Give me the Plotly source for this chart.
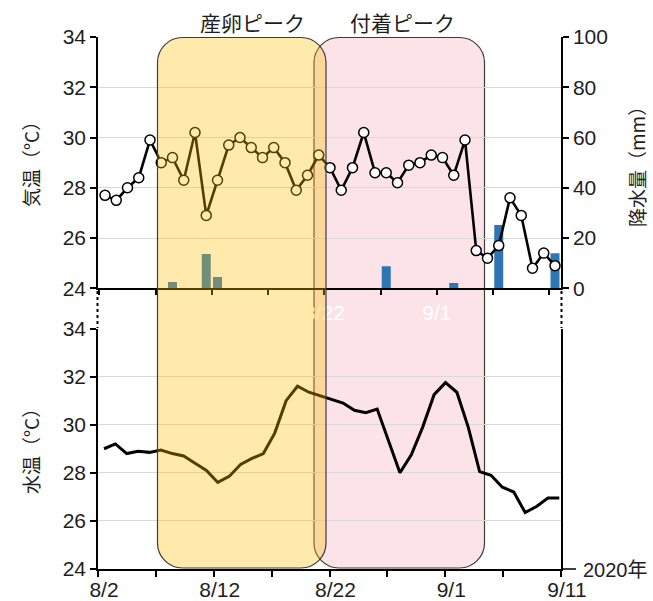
import pandas as pd
import plotly.graph_objects as go

# ---- data -------------------------------------------------------------
dates = pd.date_range("2020-08-02", "2020-09-11", freq="D")

air_temp = [27.7, 27.5, 28.0, 28.4, 29.9, 29.0, 29.2, 28.3, 30.2, 26.9,
            28.3, 29.7, 30.0, 29.6, 29.2, 29.6, 29.0, 27.9, 28.5, 29.3,
            28.8, 27.9, 28.8, 30.2, 28.6, 28.6, 28.2, 28.9, 29.0, 29.3,
            29.2, 28.5, 29.9, 25.5, 25.2, 25.7, 27.6, 26.9, 24.8, 25.4,
            24.9]

rain_mm = [0, 0, 0, 0, 0, 0, 2.5, 0, 0, 13.6,
           4.5, 0, 0, 0, 0, 0, 0, 0, 0, 0,
           0, 0, 0, 0, 0, 8.8, 0, 0, 0, 0,
           0, 2.1, 0, 0, 0, 25.2, 0, 0, 0, 0,
           13.9]

water_temp = [29.0, 29.2, 28.8, 28.9, 28.85, 28.95, 28.8, 28.7, 28.4, 28.1,
              27.6, 27.85, 28.35, 28.6, 28.8, 29.65, 31.0, 31.6, 31.35, 31.2,
              31.05, 30.9, 30.6, 30.5, 30.65, 29.35, 28.0, 28.75, 29.9, 31.25,
              31.75, 31.35, 29.9, 28.05, 27.9, 27.4, 27.2, 26.35, 26.6, 26.95,
              26.95]

tick_text = ["8/2", "", "8/12", "", "8/22", "", "9/1", "", "9/11"]
peak_labels = ["産卵ピーク", "付着ピーク"]

# ---- geometry helpers (pixel -> paper) -------------------------------
W, H = 653, 601
ML, MR, MT, MB = 98, 92, 37, 32
PW, PH = W - ML - MR, H - MT - MB


def px(x):
    return (x - ML) / PW


def py(y):
    return (H - MB - y) / PH


def ts(t):
    return pd.Timestamp(t).strftime("%Y-%m-%d %H:%M:%S")


DAY = pd.Timedelta(days=1)
MS_DAY = 86400000


def rounded_rect(x0, x1, y0, y1, r):
    """Rounded rectangle path in paper coordinates from pixel edges."""
    L, R = px(x0), px(x1)
    T, B = py(y0), py(y1)
    rx, ry = r / PW, r / PH
    k = 0.5523
    f = lambda a, b: f"{a:.5f},{b:.5f}"
    return (
        f"M {f(L + rx, T)} L {f(R - rx, T)} "
        f"C {f(R - rx + k * rx, T)} {f(R, T - ry + k * ry)} {f(R, T - ry)} "
        f"L {f(R, B + ry)} "
        f"C {f(R, B + ry - k * ry)} {f(R - rx + k * rx, B)} {f(R - rx, B)} "
        f"L {f(L + rx, B)} "
        f"C {f(L + rx - k * rx, B)} {f(L, B + ry - k * ry)} {f(L, B + ry)} "
        f"L {f(L, T - ry)} "
        f"C {f(L, T - ry + k * ry)} {f(L + rx - k * rx, T)} {f(L + rx, T)} Z"
    )


NUM_FONT = "Liberation Sans, Arial, sans-serif"
JP_FONT = "Noto Sans CJK JP, sans-serif"
TXT = "#1e1e1e"

x_dates = [ts(d) for d in dates]

fig = go.Figure()

# rainfall bars (top panel, right axis)
fig.add_trace(go.Bar(
    x=x_dates, y=rain_mm, xaxis="x2", yaxis="y2",
    marker=dict(color="#2e75b6", line=dict(width=0)),
    width=0.8 * MS_DAY, showlegend=False,
))

# air temperature (top panel, left axis)
fig.add_trace(go.Scatter(
    x=x_dates, y=air_temp, xaxis="x2", yaxis="y3",
    mode="lines+markers",
    line=dict(color="black", width=2.6),
    marker=dict(size=10, color="white", line=dict(color="black", width=1.5)),
    showlegend=False,
))

# water temperature (bottom panel)
fig.add_trace(go.Scatter(
    x=x_dates, y=water_temp, xaxis="x", yaxis="y",
    mode="lines", line=dict(color="black", width=3),
    showlegend=False,
))

axis_common = dict(
    showline=True, linecolor="black", linewidth=1.5,
    ticks="outside", ticklen=6, tickwidth=1.5, tickcolor="black",
    automargin=False, zeroline=False,
)

# top panel: daily categories, ticks on category boundaries every 5 days
top_range = [dates[0] - 0.622 * DAY, dates[-1] + 0.533 * DAY]
top_ticks = [ts(dates[0] - 0.5 * DAY + 5 * k * DAY) for k in range(9)]

# bottom panel: date ticks split the frame into eight equal steps
bot_range = [dates[0] - 0.527 * DAY, dates[-1] + 0.15 * DAY]
bot_span = bot_range[1] - bot_range[0]
bottom_ticks = [ts(bot_range[0] + bot_span * k / 8) for k in range(9)]

top_dom = [py(288.3), 1.0]
bot_dom = [0.0, py(328.5)]

fig.update_layout(
    width=W, height=H,
    margin=dict(l=ML, r=MR, t=MT, b=MB, pad=0),
    template="none",
    paper_bgcolor="white", plot_bgcolor="rgba(0,0,0,0)",
    font=dict(family=NUM_FONT, size=21, color=TXT),
    showlegend=False,
    barmode="overlay",
    xaxis=dict(
        axis_common, type="date", anchor="y", domain=[0, 1],
        range=[ts(bot_range[0]), ts(bot_range[1])],
        tickmode="array", tickvals=bottom_ticks, ticktext=tick_text,
        ticklabelshift=6, ticklabelstandoff=-5, showgrid=False,
        tickfont=dict(family=NUM_FONT, size=21, color=TXT),
    ),
    xaxis2=dict(
        axis_common, type="date", anchor="y2", domain=[0, 1],
        range=[ts(top_range[0]), ts(top_range[1])],
        tickmode="array", tickvals=top_ticks, ticktext=tick_text,
        ticklen=5, showgrid=False,
        tickfont=dict(family=NUM_FONT, size=21, color="white"),
    ),
    yaxis=dict(
        axis_common, domain=bot_dom, anchor="x", range=[24, 34],
        tickmode="linear", tick0=24, dtick=2, mirror=True,
        showgrid=True, gridcolor="#d9d9d9", gridwidth=1,
    ),
    yaxis2=dict(
        axis_common, domain=top_dom, anchor="x2", side="right",
        range=[0, 100], tickmode="linear", tick0=0, dtick=20,
        showgrid=True, gridcolor="#d9d9d9", gridwidth=1,
    ),
    yaxis3=dict(
        axis_common, overlaying="y2", anchor="x2", side="left",
        range=[24, 34], tickmode="linear", tick0=24, dtick=2,
        showgrid=False,
    ),
)

shapes = []
# 付着ピーク period (behind the data)
shapes.append(dict(
    type="path", xref="paper", yref="paper", layer="below",
    path=rounded_rect(314, 484.5, 37.5, 568, 25),
    fillcolor="rgb(251,227,231)", line=dict(color="#3c3c3c", width=1.2),
))
# 産卵ピーク period (translucent, over the data)
shapes.append(dict(
    type="path", xref="paper", yref="paper", layer="above",
    path=rounded_rect(157.5, 326, 37.5, 568, 25),
    fillcolor="rgba(255,192,0,0.33)", line=dict(color="#3c3c3c", width=1.2),
))
# dotted axis breaks between the two panels
for xp in (px(97.5), px(561.5)):
    shapes.append(dict(
        type="line", xref="paper", yref="paper",
        x0=xp, x1=xp, y0=py(291), y1=py(328),
        line=dict(color="black", width=2, dash="dot"),
    ))
# short extension of the date axis toward the year label
shapes.append(dict(
    type="line", xref="paper", yref="paper",
    x0=1.0, x1=px(576), y0=0, y1=0,
    line=dict(color="black", width=1.5),
))
fig.update_layout(shapes=shapes)


def label(text, x, y, size, angle=0, family=JP_FONT, xanchor="center"):
    return dict(text=text, x=px(x), y=py(y), xref="paper", yref="paper",
                xanchor=xanchor, yanchor="middle", textangle=angle,
                showarrow=False, font=dict(family=family, size=size, color=TXT))


annotations = [
    label(peak_labels[0], 252, 22, 21),
    label(peak_labels[1], 402, 22, 21),
    label("気温（°C）", 30, 160, 19, -90),
    label("水温（°C）", 30, 447, 19, -90),
    label("降水量（mm）", 636, 162, 19, -90),
    label("2020年", 581, 570, 20, family=NUM_FONT + ", Noto Sans CJK JP",
          xanchor="left"),
]
fig.update_layout(annotations=annotations)

fig.write_html("out.html")
